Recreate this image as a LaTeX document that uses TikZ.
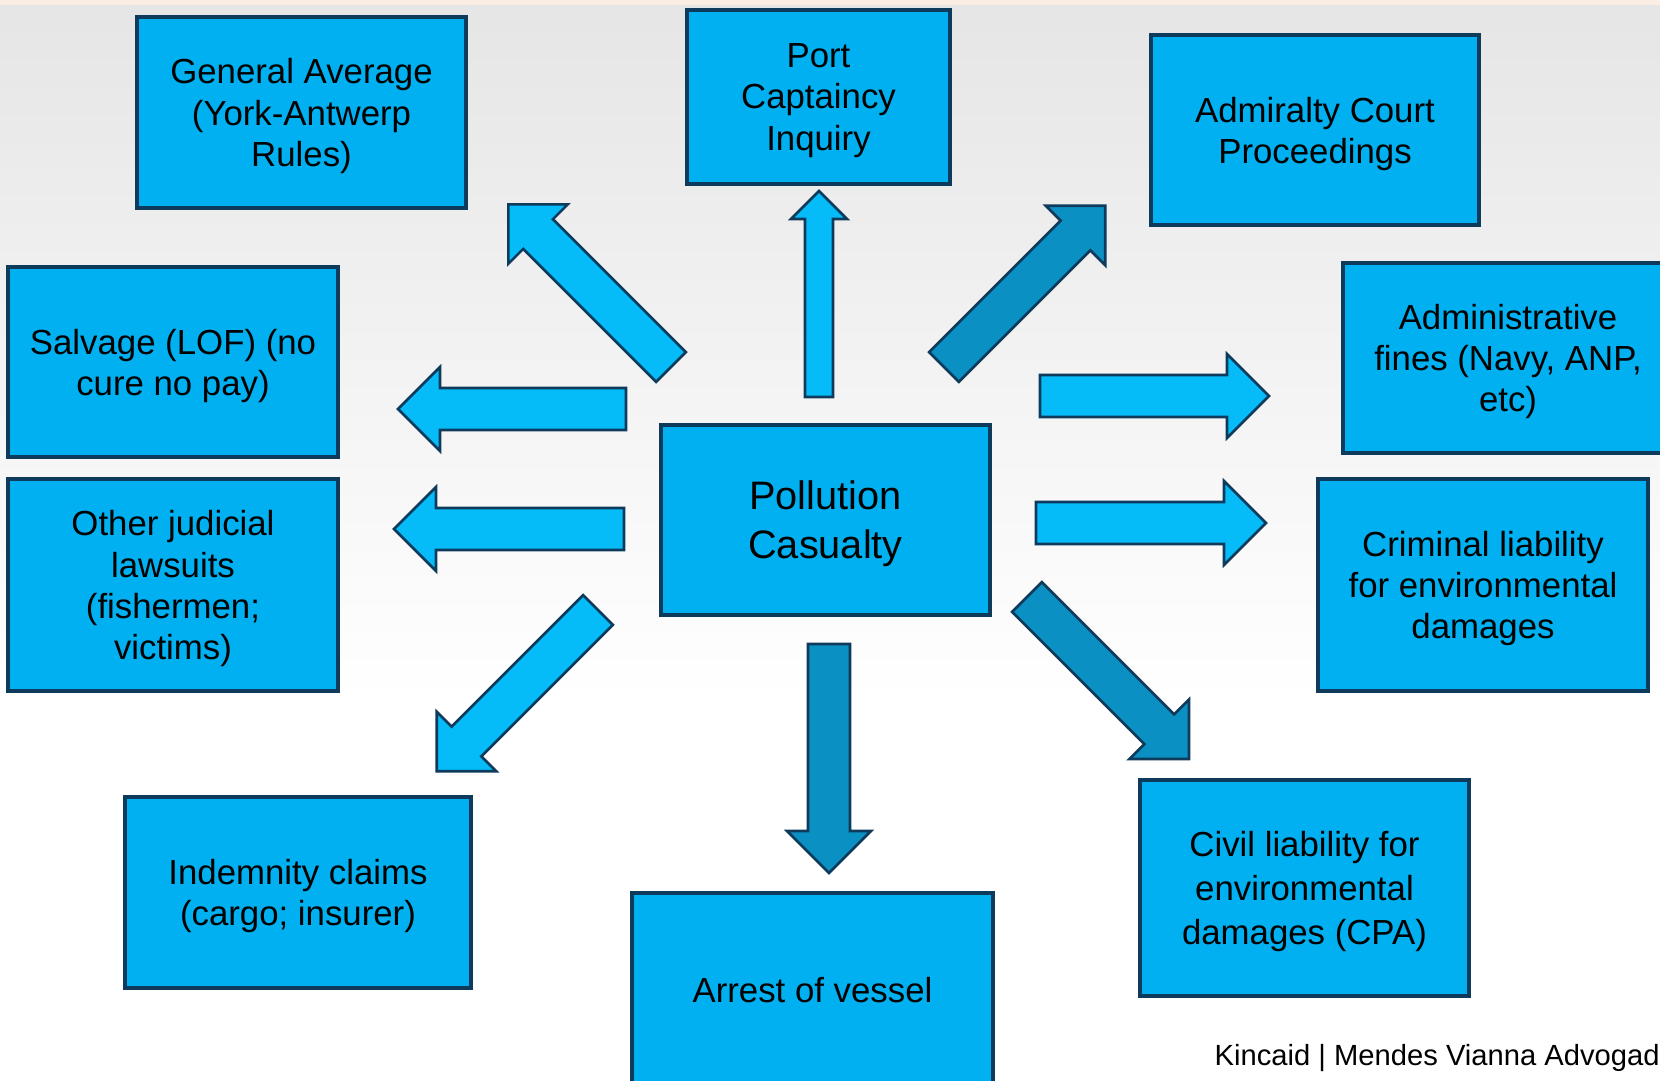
\documentclass[tikz,border=0pt]{standalone}
\usepackage{fontspec}
\setmainfont{Liberation Sans}
\definecolor{boxblue}{HTML}{00B0F0}
\definecolor{arrlight}{HTML}{05BCF8}
\definecolor{arrdark}{HTML}{0A90C2}
\definecolor{edgeblue}{HTML}{0E3A5C}
\definecolor{topline}{HTML}{FCEDE2}
% block arrow: tail, angle, length, colour, shaft half width
\newcommand{\blockarrow}[5]{%
  \begin{scope}[shift={(#1)},rotate=#2]
    \draw[fill=#4,draw=edgeblue,line width=0.75pt] (0,-#5) -- ({#3-2*#5},-#5) -- ({#3-2*#5},{-2*#5}) -- (#3,0)
      -- ({#3-2*#5},{2*#5}) -- ({#3-2*#5},#5) -- (0,#5) -- cycle;
  \end{scope}}
\begin{document}
\begin{tikzpicture}[x=0.1mm,y=-0.1mm,line join=miter,
    box/.style={draw=edgeblue,line width=0.9pt,fill=boxblue,align=center,inner sep=0pt,text depth=0pt,
      font=\fontsize{9.9}{11.7}\selectfont}]
	\useasboundingbox (0,0) rectangle (1660,1081);
	\clip (0,0) rectangle (1660,1081);
	\fill[white] (0,0) rectangle (1660,1081);
	\shade[top color=gray!20,bottom color=white] (0,5) rectangle (1660,700);
	\fill[topline] (0,0) rectangle (1660,5);
	% boxes
	\node[box,minimum width=32.9mm,minimum height=19.1mm] (ga) at (301.5,112.5) {General Average\\(York-Antwerp\\Rules)};
	\node[box,minimum width=26.3mm,minimum height=17.4mm] (port) at (818.5,97) {Port\\Captaincy\\Inquiry};
	\node[box,minimum width=32.8mm,minimum height=19mm] (adm) at (1315,130) {Admiralty Court\\Proceedings};
	\node[box,minimum width=33mm,minimum height=19mm] (salv) at (173,362) {Salvage (LOF) (no\\cure no pay)};
	\node[box,minimum width=33mm,minimum height=19mm] (fines) at (1508,358) {Administrative\\fines (Navy, ANP,\\etc)};
	\node[box,minimum width=33mm,minimum height=21.2mm] (other) at (173,585) {Other judicial\\lawsuits\\(fishermen;\\victims)};
	\node[box,minimum width=32.9mm,minimum height=19mm,font=\fontsize{11.3}{13.9}\selectfont] (poll) at (825.5,520) {Pollution\\Casualty};
	\node[box,minimum width=33mm,minimum height=21.2mm] (crim) at (1483,585) {Criminal liability\\for environmental\\damages};
	\node[box,minimum width=34.6mm,minimum height=19.1mm] (indem) at (298,892.5) {Indemnity claims\\(cargo; insurer)};
	\node[box,minimum width=36.1mm,minimum height=19.4mm] (arrest) at (812.5,990) {Arrest of vessel};
	\node[box,minimum width=32.9mm,minimum height=21.6mm,font=\fontsize{9.9}{12.5}\selectfont] (civil) at (1304.5,888) {Civil liability for\\environmental\\damages (CPA)};
	% arrow tails
	\coordinate (tnw) at (671,367);
	\coordinate (tn) at (819,397);
	\coordinate (tne) at (944,367);
	\coordinate (tw1) at (626,409);
	\coordinate (tw2) at (624,529);
	\coordinate (te1) at (1040,396);
	\coordinate (te2) at (1036,523);
	\coordinate (tsw) at (598,610);
	\coordinate (ts) at (829,644);
	\coordinate (tse) at (1027,597);
	\blockarrow{tnw}{135}{230}{arrlight}{21}
	\blockarrow{tn}{90}{206}{arrlight}{14}
	\blockarrow{tne}{45}{228}{arrdark}{21}
	\blockarrow{tw1}{180}{228}{arrlight}{21}
	\blockarrow{tw2}{180}{230}{arrlight}{21}
	\blockarrow{te1}{0}{229}{arrlight}{21}
	\blockarrow{te2}{0}{230}{arrlight}{21}
	\blockarrow{tsw}{225}{228}{arrlight}{21}
	\blockarrow{ts}{270}{229}{arrdark}{21}
	\blockarrow{tse}{-45}{229}{arrdark}{21}
	\node[anchor=base west,inner sep=0pt,font=\fontsize{8.3}{10}\selectfont] (foot) at (1214,1065) {Kincaid | Mendes Vianna Advogados};
\end{tikzpicture}
\end{document}
